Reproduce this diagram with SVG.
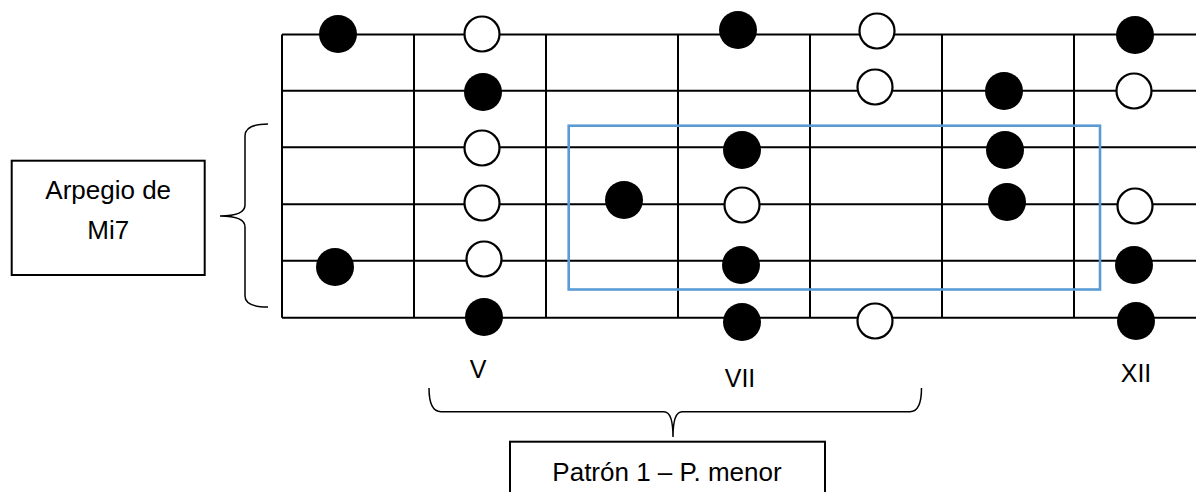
<svg xmlns="http://www.w3.org/2000/svg" width="1196" height="492" viewBox="0 0 1196 492">
<style>
.grid line{stroke:#000;stroke-width:2}
.f{fill:#000}
.o{fill:#fff;stroke:#000;stroke-width:2.2}
.box{fill:#fff;stroke:#000;stroke-width:2}
.brace{fill:none;stroke:#000;stroke-width:1.5}
.t{font-family:"Liberation Sans",Arial,sans-serif;font-size:26px;fill:#000;text-anchor:middle}
.n{font-family:"Liberation Sans",Arial,sans-serif;font-size:25px;fill:#000;text-anchor:middle}
</style>
<rect width="1196" height="492" fill="#fff"/>
<g id="fretboard" class="grid">
<line x1="282" y1="34.5" x2="1196" y2="34.5"/>
<line x1="282" y1="90.7" x2="1196" y2="90.7"/>
<line x1="282" y1="147.3" x2="1196" y2="147.3"/>
<line x1="282" y1="204.3" x2="1196" y2="204.3"/>
<line x1="282" y1="260.7" x2="1196" y2="260.7"/>
<line x1="282" y1="317.7" x2="1196" y2="317.7"/>
<line x1="282" y1="34.5" x2="282" y2="317.7"/>
<line x1="414" y1="34.5" x2="414" y2="317.7"/>
<line x1="546" y1="34.5" x2="546" y2="317.7"/>
<line x1="678" y1="34.5" x2="678" y2="317.7"/>
<line x1="810" y1="34.5" x2="810" y2="317.7"/>
<line x1="942" y1="34.5" x2="942" y2="317.7"/>
<line x1="1074" y1="34.5" x2="1074" y2="317.7"/>
</g>
<g id="pattern-box">
<rect x="568.7" y="125.7" width="531.3" height="163.8" fill="none" stroke="#5B9BD5" stroke-width="2.6"/>
</g>
<g id="notes">
<circle class="f" cx="338" cy="34" r="19"/>
<circle class="o" cx="482" cy="34" r="17.5"/>
<circle class="f" cx="483" cy="92" r="19"/>
<circle class="o" cx="482" cy="148" r="17.5"/>
<circle class="o" cx="482" cy="203" r="17.5"/>
<circle class="o" cx="484" cy="259" r="17.5"/>
<circle class="f" cx="335" cy="267" r="19"/>
<circle class="f" cx="484" cy="317" r="19"/>
<circle class="f" cx="738" cy="30" r="19"/>
<circle class="f" cx="742" cy="150" r="19"/>
<circle class="f" cx="624" cy="200" r="19"/>
<circle class="o" cx="742" cy="205" r="17.5"/>
<circle class="f" cx="741" cy="265" r="19"/>
<circle class="f" cx="742" cy="322" r="19"/>
<circle class="o" cx="877" cy="31" r="17.5"/>
<circle class="o" cx="875" cy="87" r="17.5"/>
<circle class="o" cx="875" cy="321" r="17.5"/>
<circle class="f" cx="1004" cy="91" r="19"/>
<circle class="f" cx="1005" cy="150" r="19"/>
<circle class="f" cx="1007" cy="202" r="19"/>
<circle class="f" cx="1135" cy="35" r="19"/>
<circle class="o" cx="1134" cy="91" r="17.5"/>
<circle class="o" cx="1135" cy="206" r="17.5"/>
<circle class="f" cx="1134" cy="265" r="19"/>
<circle class="f" cx="1136" cy="321" r="19"/>
</g>
<g id="fret-labels">
<text class="n" x="478" y="378">V</text>
<text class="n" x="740" y="387">VII</text>
<text class="n" x="1136" y="382">XII</text>
</g>
<g id="connectors">
<path class="brace" d="M268,124 Q245,124 245,136 L245,205 Q245,216 220,216 Q245,216 245,227 L245,296 Q245,307 268,307"/>
<path class="brace" d="M429,388 Q429,411.7 441,411.7 L664,411.7 Q673,411.7 673,437 Q673,411.7 682,411.7 L910,411.7 Q921.5,411.7 921.5,388"/>
</g>
<g id="arpegio">
<rect class="box" x="11.7" y="160.7" width="193" height="114.3"/>
<text class="t" x="108.2" y="198.5">Arpegio de</text>
<text class="t" x="108.2" y="238.5">Mi7</text>
</g>
<g id="patron">
<rect class="box" x="510" y="441.7" width="315" height="60"/>
<text class="t" x="667" y="481">Patrón 1 – P. menor</text>
</g>
</svg>
